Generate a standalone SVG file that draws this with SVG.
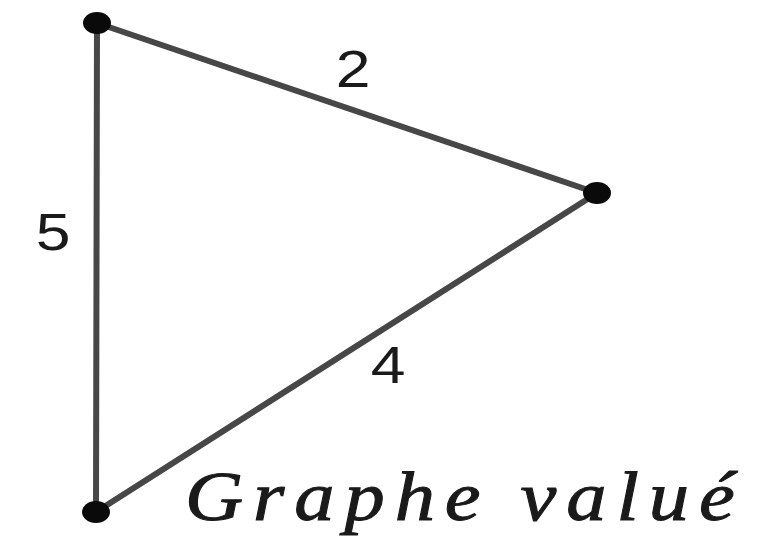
<svg xmlns="http://www.w3.org/2000/svg" width="766" height="538" viewBox="0 0 766 538">
<style>
.edge{stroke:#474747;stroke-width:6;fill:none;stroke-linecap:round}
.node{fill:#0a0a0a}
.lbl{font-family:"Liberation Sans",Arial,sans-serif;font-size:52px;fill:#1a1a1a}
.cap{font-family:"Liberation Serif","Times New Roman",serif;font-style:italic;font-size:70px;fill:#1a1a1a;stroke:#1a1a1a;stroke-width:1}
</style>
<rect width="766" height="538" fill="#ffffff"/>
<g id="edges">
<line class="edge" x1="97" y1="23" x2="597" y2="193"/>
<line class="edge" x1="597" y1="193" x2="96" y2="512"/>
<line class="edge" x1="97" y1="23" x2="96" y2="512"/>
</g>
<g id="n1"><ellipse class="node" cx="97" cy="23" rx="14" ry="11"/></g>
<g id="n2"><ellipse class="node" cx="597" cy="193" rx="14" ry="11"/></g>
<g id="n3"><ellipse class="node" cx="96" cy="512" rx="14" ry="11"/></g>
<g id="labels">
<text class="lbl" transform="translate(353,87) scale(1.2,1)" text-anchor="middle">2</text>
<text class="lbl" transform="translate(53,250) scale(1.2,1)" text-anchor="middle">5</text>
<text class="lbl" transform="translate(388,383) scale(1.2,1)" text-anchor="middle">4</text>
</g>
<text class="cap" transform="translate(185,520) scale(1.15,1)" x="0" y="0" textLength="478" lengthAdjust="spacing">Graphe valué</text>
</svg>
